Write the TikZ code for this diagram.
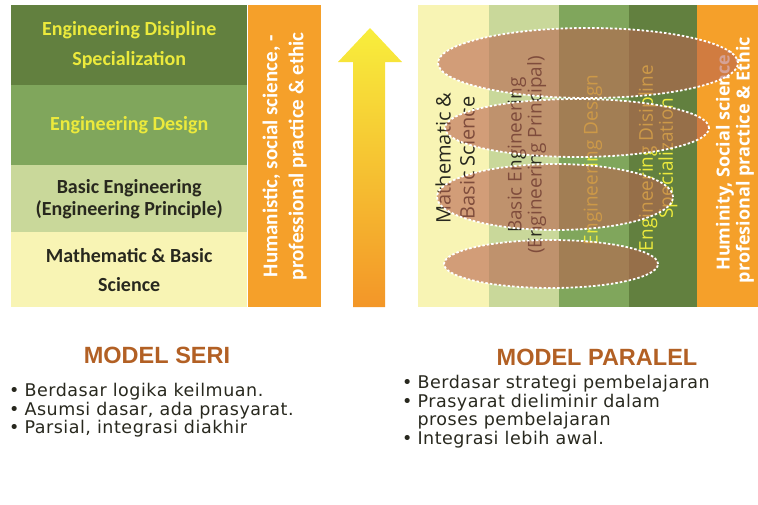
\documentclass[tikz,border=0pt]{standalone}
\usepackage{fontspec}
\setmainfont{Carlito}
\newfontfamily\colfont{Open Sans}
\newfontfamily\listfont[LetterSpace=3]{DejaVu Sans}
\newfontfamily\titlefont{Liberation Sans}
\usetikzlibrary{shapes.geometric}

\definecolor{rowdark}{RGB}{98,128,63}
\definecolor{rowmid}{RGB}{128,166,92}
\definecolor{rowlight}{RGB}{201,216,154}
\definecolor{rowpale}{RGB}{248,244,180}
\definecolor{bandorange}{RGB}{245,160,42}
\definecolor{txtyellow}{RGB}{236,234,60}
\definecolor{txtdark}{RGB}{40,40,30}
\definecolor{ellbrown}{RGB}{185,100,80}
\definecolor{titlebrown}{RGB}{178,96,36}
\definecolor{arrowyellow}{RGB}{248,238,60}
\definecolor{arrowmid}{RGB}{248,205,50}
\definecolor{arroworange}{RGB}{243,150,40}

\tikzset{
  layer/.style={rectangle, inner sep=0pt, anchor=north west, align=center,
    font=\bfseries\fontsize{20}{30}\selectfont},
  colbox/.style={rectangle, inner sep=0pt, anchor=north west, minimum height=302},
  coltext/.style={rotate=90, align=center, inner sep=0pt, font=\colfont\fontsize{19}{20}\selectfont},
  layerell/.style={ellipse, draw=white, line width=1.8pt, dash pattern=on 2.5pt off 2pt,
    fill=ellbrown, fill opacity=0.6, inner sep=0pt},
  modeltitle/.style={font=\titlefont\bfseries\fontsize{23.5}{26}\selectfont, text=titlebrown},
  bullets/.style={anchor=north west, inner sep=0pt, align=left,
    font=\listfont\fontsize{17.5}{18}\selectfont, text=txtdark}
}

\begin{document}
\begin{tikzpicture}[x=1pt, y=-1pt]
  \useasboundingbox (0,0) rectangle (758,504);

  % model seri
  \node[layer, fill=rowdark, minimum width=236, minimum height=80, text=txtyellow] (spec) at (11,5)
    {Engineering Disipline\\Specialization};
  \node[layer, fill=rowmid, minimum width=236, minimum height=80, text=txtyellow] (design) at (11,85)
    {Engineering Design};
  \node[layer, fill=rowlight, minimum width=236, minimum height=67, text=txtdark,
    font=\bfseries\fontsize{20}{22}\selectfont] (basic) at (11,165)
    {Basic Engineering\\(Engineering Principle)};
  \node[layer, fill=rowpale, minimum width=236, minimum height=75, text=txtdark,
    font=\bfseries\fontsize{20}{29}\selectfont] (math) at (11,232)
    {Mathematic \& Basic\\Science};
  \node[layer, fill=bandorange, minimum width=73, minimum height=302] (hum) at (248,5) {};
  \node[rotate=90, align=center, inner sep=0pt, text=white,
    font=\bfseries\fontsize{21}{26}\selectfont] (humtext) at (hum.center)
    {Humanistic, social science, -\\professional practice \& ethic};

  % arrow
  \shade[top color=arrowyellow, middle color=arrowmid, bottom color=arroworange]
    (353,307) -- (353,62) -- (338,62) -- (370,28) -- (402,62) -- (385,62) -- (385,307) -- cycle;

  % model paralel
  \foreach \name/\x/\w/\col in {cmath/418/71/rowpale, cbasic/489/70/rowlight,
      cdesign/559/70/rowmid, cspec/629/68/rowdark, chum/697/61/bandorange}
    \node[colbox, fill=\col, minimum width=\w] (\name) at (\x,5) {};

  \node[coltext, text=txtdark, font=\colfont\fontsize{20}{24}\selectfont] (tmath) at (455,158)
    {Mathematic \&\\Basic Science};
  \node[coltext, text=txtdark] (tbasic) at (527,155)
    {Basic Engineering\\(Engineering Principal)};
  \node[coltext, text=txtyellow] (tdesign) at (593,160) {Engineering Design};
  \node[coltext, text=txtyellow] (tspec) at (658,158)
    {Engineering Disipline\\Specialization};
  \node[coltext, text=white, font=\colfont\bfseries\fontsize{18}{20}\selectfont] (thum) at (735,160)
    {Huminity, Social science,\\profesional practice \& Ethic};

  \node[layerell, minimum width=300, minimum height=70] (ell1) at (588,63) {};
  \node[layerell, minimum width=264, minimum height=58] (ell2) at (577,128) {};
  \node[layerell, minimum width=236, minimum height=66] (ell3) at (555,197) {};
  \node[layerell, minimum width=214, minimum height=48] (ell4) at (551,264) {};

  % titles and notes
  \node[modeltitle] (seri) at (157,355) {MODEL SERI};
  \node[modeltitle] (paralel) at (597,357) {MODEL PARALEL};

  \node[bullets] (seritext) at (9,383)
    {\begin{tabular}{@{}l@{\hspace{5pt}}l@{}}
      \textbullet & Berdasar logika keilmuan.\\
      \textbullet & Asumsi dasar, ada prasyarat.\\
      \textbullet & Parsial, integrasi diakhir
    \end{tabular}};
  \node[bullets] (paraleltext) at (402,375)
    {\begin{tabular}{@{}l@{\hspace{5pt}}l@{}}
      \textbullet & Berdasar strategi pembelajaran\\
      \textbullet & Prasyarat dieliminir dalam\\
      & proses pembelajaran\\
      \textbullet & Integrasi lebih awal.
    \end{tabular}};
\end{tikzpicture}
\end{document}
